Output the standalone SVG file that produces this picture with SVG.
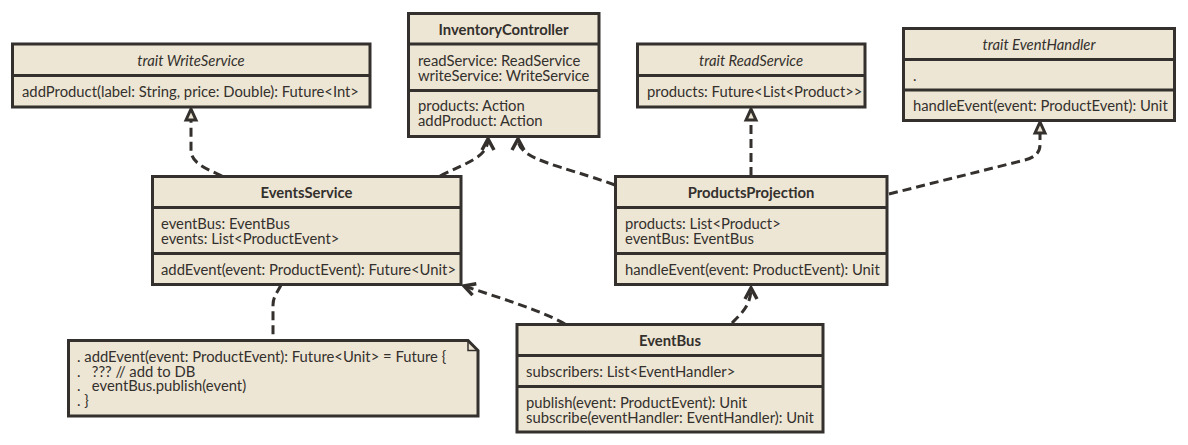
<svg xmlns="http://www.w3.org/2000/svg" width="1188" height="445" viewBox="0 0 1188 445">
<style>
.box{fill:#EEE6D4;stroke:#33302D;stroke-width:3}
.div{stroke:#33302D;stroke-width:3}
text{font-family:Lato,"Noto Sans",sans-serif;font-size:14.8px;fill:#33302D}
.t{font-weight:bold;text-anchor:middle}
.i{font-style:italic;text-anchor:middle}
.pre{white-space:pre}
.c{fill:none;stroke:#33302D;stroke-width:3;stroke-dasharray:9,5}
</style>
<defs>
<marker id="tri" markerUnits="userSpaceOnUse" markerWidth="16" markerHeight="16" viewBox="-2 -8 16 16" refX="0" refY="0" orient="auto" overflow="visible">
<path d="M0,-5 L11,0 L0,5 Z" fill="#EEE6D4" stroke="#33302D" stroke-width="3" stroke-linejoin="miter"/>
</marker>
<marker id="open" markerUnits="userSpaceOnUse" markerWidth="16" markerHeight="16" viewBox="-14 -8 16 16" refX="0" refY="0" orient="auto" overflow="visible">
<path d="M-11,-6 L0,0 L-11,6" fill="none" stroke="#33302D" stroke-width="3.5" stroke-linejoin="miter"/>
</marker>
</defs>
<g id="connectors">
<path class="c" d="M222,176 C205,168 191,163 191,150 L191,120" marker-end="url(#tri)"/>
<path class="c" d="M440,176 C465,163 488,158 488,139" marker-end="url(#open)"/>
<path class="c" d="M615,185 C560,165 518,160 518,139" marker-end="url(#open)"/>
<path class="c" d="M751,176 L751,120" marker-end="url(#tri)"/>
<path class="c" d="M889,194 L1025,160 Q1040,156 1040,145 L1040,133" marker-end="url(#tri)"/>
<path class="c" d="M565,324 C540,310 500,298 464,286" marker-end="url(#open)"/>
<path class="c" d="M732,323 C742,313 751,305 751,288" marker-end="url(#open)"/>
<path class="c" d="M281,285 C277,293 273,297 273,305 L273,340"/>
</g>
<g id="WriteService">
<rect class="box" x="12.5" y="44" width="357.5" height="63"/>
<line class="div" x1="12.5" y1="75.5" x2="370" y2="75.5"/>
<text class="i" x="191" y="65.5">trait WriteService</text>
<text x="22" y="97">addProduct(label: String, price: Double): Future&lt;Int&gt;</text>
</g>
<g id="InventoryController">
<rect class="box" x="408.5" y="13.5" width="190.5" height="123"/>
<line class="div" x1="408.5" y1="44" x2="599" y2="44"/>
<line class="div" x1="408.5" y1="90.5" x2="599" y2="90.5"/>
<text class="t" x="503.5" y="34.5">InventoryController</text>
<text x="418" y="66"><tspan x="418">readService: ReadService</tspan><tspan x="418" dy="14.5">writeService: WriteService</tspan></text>
<text x="418" y="111"><tspan x="418">products: Action</tspan><tspan x="418" dy="14.5">addProduct: Action</tspan></text>
</g>
<g id="ReadService">
<rect class="box" x="637.5" y="44" width="227.5" height="63"/>
<line class="div" x1="637.5" y1="75.5" x2="865" y2="75.5"/>
<text class="i" x="751" y="65.5">trait ReadService</text>
<text x="647" y="97">products: Future&lt;List&lt;Product&gt;&gt;</text>
</g>
<g id="EventHandler">
<rect class="box" x="903.5" y="28.5" width="271" height="92"/>
<line class="div" x1="903.5" y1="59.5" x2="1174.5" y2="59.5"/>
<line class="div" x1="903.5" y1="90" x2="1174.5" y2="90"/>
<text class="i" x="1039" y="50">trait EventHandler</text>
<text x="913" y="80.5">.</text>
<text x="913" y="111">handleEvent(event: ProductEvent): Unit</text>
</g>
<g id="EventsService">
<rect class="box" x="152.5" y="176.5" width="308.5" height="108"/>
<line class="div" x1="152.5" y1="207.5" x2="461" y2="207.5"/>
<line class="div" x1="152.5" y1="253.5" x2="461" y2="253.5"/>
<text class="t" x="306.5" y="198">EventsService</text>
<text x="161" y="229"><tspan x="161">eventBus: EventBus</tspan><tspan x="161" dy="14.5">events: List&lt;ProductEvent&gt;</tspan></text>
<text x="161" y="274.5">addEvent(event: ProductEvent): Future&lt;Unit&gt;</text>
</g>
<g id="ProductsProjection">
<rect class="box" x="615.5" y="176.5" width="271.5" height="108"/>
<line class="div" x1="615.5" y1="207.5" x2="887" y2="207.5"/>
<line class="div" x1="615.5" y1="253.5" x2="887" y2="253.5"/>
<text class="t" x="751" y="198">ProductsProjection</text>
<text x="625" y="229"><tspan x="625">products: List&lt;Product&gt;</tspan><tspan x="625" dy="14.5">eventBus: EventBus</tspan></text>
<text x="625" y="274.5">handleEvent(event: ProductEvent): Unit</text>
</g>
<g id="EventBus">
<rect class="box" x="517" y="324.5" width="306" height="107.5"/>
<line class="div" x1="517" y1="355.5" x2="823" y2="355.5"/>
<line class="div" x1="517" y1="386.5" x2="823" y2="386.5"/>
<text class="t" x="670" y="346">EventBus</text>
<text x="526" y="377">subscribers: List&lt;EventHandler&gt;</text>
<text x="526" y="408"><tspan x="526">publish(event: ProductEvent): Unit</tspan><tspan x="526" dy="14.5">subscribe(eventHandler: EventHandler): Unit</tspan></text>
</g>
<g id="note">
<path class="box" d="M68.5,340.5 L468,340.5 L478,350.5 L478,416 L68.5,416 Z"/>
<path d="M468,340.5 L468,350.5 L478,350.5" fill="none" stroke="#33302D" stroke-width="1.5"/>
<text class="pre" x="77" y="362"><tspan x="77">. addEvent(event: ProductEvent): Future&lt;Unit&gt; = Future {</tspan><tspan x="77" dy="14.5">.   ??? // add to DB</tspan><tspan x="77" dy="14.5">.   eventBus.publish(event)</tspan><tspan x="77" dy="14.5">. }</tspan></text>
</g>
</svg>
